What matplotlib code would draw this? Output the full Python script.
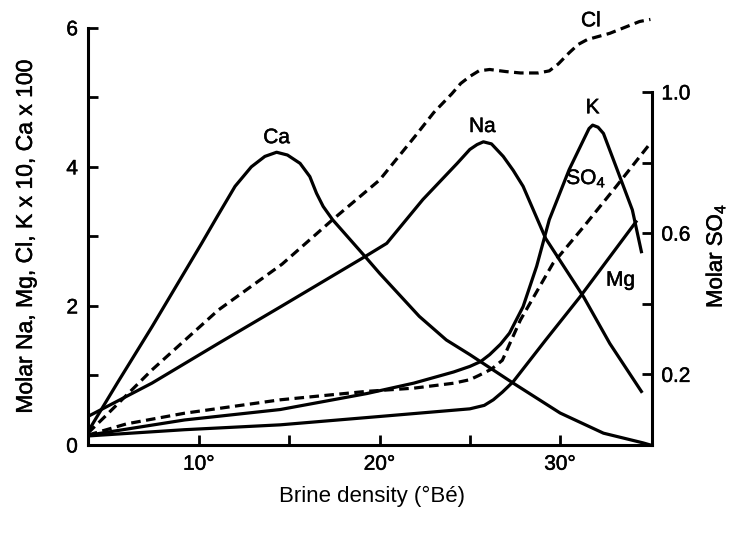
import numpy as np
import matplotlib
matplotlib.use("Agg")
import matplotlib.pyplot as plt
import matplotlib.patheffects as pe

plt.rcParams['font.family'] = ['Liberation Sans', 'DejaVu Sans']
plt.rcParams['mathtext.default'] = 'regular'

# Brine density (degrees Baume) and molar concentrations
# left axis: Na, Mg, Cl molar; K x 10; Ca x 100
ca_x = [3.85, 5.5, 7.4, 10.15, 11.0, 12.0, 12.9, 13.65, 14.3, 14.9, 15.6, 16.14, 16.51, 16.88, 17.4, 19.2, 20.0, 22.2, 23.7, 25.0, 27.4, 30.0, 32.4, 34.6, 35.0]
ca_y = [0.19, 0.90, 1.70, 2.90, 3.28, 3.72, 4.00, 4.15, 4.21, 4.17, 4.05, 3.86, 3.62, 3.43, 3.24, 2.71, 2.47, 1.85, 1.51, 1.30, 0.89, 0.46, 0.17, 0.03, 0.00]

na_x = [3.85, 7.4, 11.07, 14.6, 19.2, 20.4, 22.4, 24.3, 25.0, 25.4, 25.75, 26.2, 26.85, 27.4, 27.95, 29.2, 31.3, 32.75, 34.5]
na_y = [0.41, 0.89, 1.46, 2.00, 2.71, 2.90, 3.53, 4.05, 4.25, 4.32, 4.36, 4.33, 4.15, 3.95, 3.72, 2.97, 2.13, 1.46, 0.77]

cl_x = [3.85, 4.8, 7.4, 11.07, 14.6, 17.4, 20.0, 22.0, 23.0, 24.0, 24.5, 25.0, 25.5, 26.1, 27.0, 27.8, 28.8, 29.4, 29.9, 30.5, 31.0, 31.5, 32.75, 34.4, 35.0]
cl_y = [0.17, 0.41, 1.08, 1.94, 2.60, 3.24, 3.81, 4.45, 4.78, 5.05, 5.20, 5.30, 5.38, 5.40, 5.37, 5.35, 5.35, 5.38, 5.48, 5.64, 5.76, 5.83, 5.92, 6.09, 6.12]

k_x = [3.85, 9.2, 14.5, 19.3, 21.9, 24.1, 25.0, 25.6, 26.1, 26.7, 27.2, 27.95, 28.7, 29.4, 30.5, 31.3, 31.6, 31.8, 32.1, 32.4, 33.1, 34.0, 34.5]
k_y = [0.14, 0.36, 0.51, 0.74, 0.89, 1.05, 1.13, 1.20, 1.30, 1.45, 1.61, 1.99, 2.57, 3.24, 3.96, 4.39, 4.55, 4.60, 4.57, 4.48, 4.00, 3.38, 2.78]

mg_x = [3.85, 9.2, 14.5, 20.0, 25.0, 25.8, 26.3, 26.8, 27.4, 29.2, 31.1, 34.0, 34.2]
mg_y = [0.13, 0.22, 0.29, 0.41, 0.52, 0.57, 0.65, 0.76, 0.91, 1.51, 2.13, 3.14, 3.21]

# right axis: molar SO4
so4_x = [3.85, 6.0, 9.2, 14.5, 19.3, 21.9, 24.1, 25.0, 25.5, 26.2, 26.8, 27.8, 29.6, 31.3, 33.1, 35.0]
so4_y = [0.028, 0.06, 0.09, 0.128, 0.152, 0.161, 0.175, 0.185, 0.197, 0.215, 0.24, 0.354, 0.514, 0.618, 0.732, 0.855]

fig = plt.figure(figsize=(7.47, 5.33), dpi=100)
ax = fig.add_axes([0.1174, 0.1651, 0.755, 0.835])
ax2 = ax.twinx()

lw = 2.3
for xs, ys in [(ca_x, ca_y), (na_x, na_y), (k_x, k_y), (mg_x, mg_y)]:
    ax.plot(xs, ys, color='black', lw=lw, solid_joinstyle='round')
ax.plot(cl_x, cl_y, color='black', lw=lw, dashes=(3.0, 1.7))
ax2.plot(so4_x, so4_y, color='black', lw=lw, dashes=(3.0, 1.7))

ax.set_xlim(3.84, 35.07)
ax.set_ylim(0, 6.4)
ax2.set_ylim(0, 6.4 / 5.077)

for a in (ax, ax2):
    a.spines['top'].set_visible(False)
    for s in a.spines.values():
        s.set_linewidth(2.2)
ax.spines['right'].set_visible(False)
ax2.spines['left'].set_visible(False)
ax2.spines['bottom'].set_visible(False)
ax.spines['left'].set_bounds(0, 6)
ax2.spines['right'].set_bounds(0, 1.0)

ax.set_xticks([10, 15, 20, 25, 30])
ax.set_xticklabels(['10°', '', '20°', '', '30°'])
ax.set_yticks(range(7))
ax.set_yticklabels(['0', '', '2', '', '4', '', '6'])
ax2.set_yticks([0.2, 0.4, 0.6, 0.8, 1.0])
ax2.set_yticklabels(['0.2', '', '0.6', '', '1.0'])

ax.tick_params(direction='in', length=7, width=2, labelsize=15, pad=7)
ax2.tick_params(direction='in', length=7, width=2, labelsize=15, pad=7)

heavy = [pe.withStroke(linewidth=0.35, foreground='black')]
for t in ax.get_xticklabels() + ax.get_yticklabels() + ax2.get_yticklabels():
    t.set_path_effects(heavy)

# curve labels
lab = dict(fontsize=15, ha='center', va='center', path_effects=heavy)
ax.text(14.3, 4.42, 'Ca', **lab)
ax.text(25.7, 4.58, 'Na', **lab)
ax.text(31.8, 4.85, 'K', **lab)
ax.text(31.7, 6.1, 'Cl', **lab)
ax.text(31.45, 3.83, 'SO$_4$', **lab)
ax.text(33.35, 2.37, 'Mg', **lab)

fig.text(0.498, 0.068, 'Brine density (°Bé)', fontsize=16, ha='center', va='center')
fig.text(0.034, 0.555, 'Molar Na, Mg, Cl, K x 10, Ca x 100', fontsize=16.5,
         ha='center', va='center', rotation=90, path_effects=heavy)
fig.text(0.958, 0.52, 'Molar SO$_4$', fontsize=16, ha='center', va='center', rotation=90,
         path_effects=heavy)

fig.savefig('out.png', dpi=100)
